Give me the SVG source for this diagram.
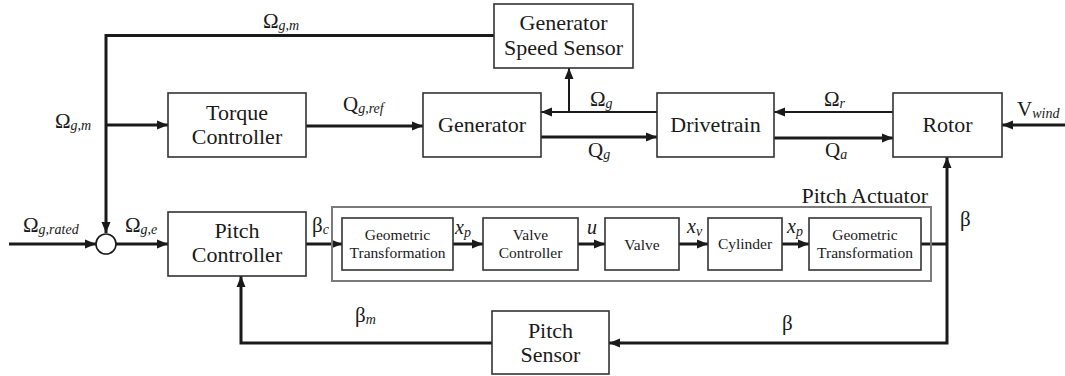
<svg xmlns="http://www.w3.org/2000/svg" width="1065" height="376" viewBox="0 0 1065 376">
<defs>
<style>
.lab{font-family:"Liberation Serif","Times New Roman",serif;font-size:21px;fill:#1a1a1a}
.bx{fill:#fff;stroke:#333;stroke-width:1.6}
.sub{font-size:14px;font-style:italic}
.it{font-style:italic}
.c{fill:none;stroke:#1a1a1a;stroke-width:3}
.c2{fill:none;stroke:#1a1a1a;stroke-width:2}
</style>
<marker id="a" markerUnits="userSpaceOnUse" markerWidth="12" markerHeight="12" viewBox="0 0 12 12" refX="11" refY="6" orient="auto-start-reverse">
<path d="M0,1.5 L11,6 L0,10.5 Z" fill="#1a1a1a"/>
</marker>
</defs>

<g id="connectors">
<path class="c" d="M494 35.5 H106 V233" marker-end="url(#a)"/>
<path class="c" d="M106 125 H168" marker-end="url(#a)"/>
<path class="c" d="M306 126 H423" marker-end="url(#a)"/>
<path class="c2" d="M657 112 H541" marker-end="url(#a)"/>
<path class="c2" d="M569 112 V68" marker-end="url(#a)"/>
<path class="c" d="M541 137 H657" marker-end="url(#a)"/>
<path class="c2" d="M893 112 H774" marker-end="url(#a)"/>
<path class="c" d="M774 138 H893" marker-end="url(#a)"/>
<path class="c" d="M1065 125 H1002" marker-end="url(#a)"/>
<path class="c" d="M9 244 H96" marker-end="url(#a)"/>
<path class="c" d="M116 244 H168" marker-end="url(#a)"/>
<path class="c" d="M306 244 H342" marker-end="url(#a)"/>
<path class="c" d="M453 244 H483" marker-end="url(#a)"/>
<path class="c" d="M578 244 H605" marker-end="url(#a)"/>
<path class="c" d="M679 244 H708" marker-end="url(#a)"/>
<path class="c" d="M782 244 H809" marker-end="url(#a)"/>
<path class="c" d="M921 244 H947"/>
<path class="c" d="M609 343 H947 V157" marker-start="url(#a)" marker-end="url(#a)"/>
<path class="c" d="M492 343 H241 V276" marker-end="url(#a)"/>
</g>

<g id="sum"><circle cx="106" cy="244" r="10" fill="#fff" stroke="#1a1a1a" stroke-width="1.6"/></g>

<g id="gen-speed-sensor">
<rect class="bx" x="494" y="4" width="139" height="64"/>
<text class="lab" x="563.5" y="30" text-anchor="middle" style="font-size:22px">Generator</text>
<text class="lab" x="563.5" y="55" text-anchor="middle" style="font-size:22px">Speed Sensor</text>
</g>
<g id="torque-controller">
<rect class="bx" x="168" y="93" width="138" height="64"/>
<text class="lab" x="237" y="120" text-anchor="middle" style="font-size:22px">Torque</text>
<text class="lab" x="237" y="144" text-anchor="middle" style="font-size:22px">Controller</text>
</g>
<g id="generator">
<rect class="bx" x="423" y="93" width="118" height="64"/>
<text class="lab" x="482" y="132" text-anchor="middle" style="font-size:22px">Generator</text>
</g>
<g id="drivetrain">
<rect class="bx" x="657" y="93" width="117" height="64"/>
<text class="lab" x="715.5" y="132" text-anchor="middle" style="font-size:22px">Drivetrain</text>
</g>
<g id="rotor">
<rect class="bx" x="893" y="93" width="109" height="64"/>
<text class="lab" x="947.5" y="132" text-anchor="middle" style="font-size:22px">Rotor</text>
</g>
<g id="pitch-controller">
<rect class="bx" x="168" y="212" width="138" height="64"/>
<text class="lab" x="237" y="238" text-anchor="middle" style="font-size:22px">Pitch</text>
<text class="lab" x="237" y="262" text-anchor="middle" style="font-size:22px">Controller</text>
</g>
<g id="pitch-actuator">
<rect x="332" y="207" width="599" height="74" fill="none" stroke="#7a7a7a" stroke-width="2"/>
<text class="lab" x="928" y="203" text-anchor="end" style="font-size:22px">Pitch Actuator</text>
</g>
<g id="geom1">
<rect class="bx" x="342" y="218" width="111" height="52"/>
<text class="lab" x="397.5" y="240" text-anchor="middle" style="font-size:15.5px">Geometric</text>
<text class="lab" x="397.5" y="258" text-anchor="middle" style="font-size:15.5px">Transformation</text>
</g>
<g id="valve-controller">
<rect class="bx" x="483" y="218" width="95" height="52"/>
<text class="lab" x="530.5" y="240" text-anchor="middle" style="font-size:15.5px">Valve</text>
<text class="lab" x="530.5" y="258" text-anchor="middle" style="font-size:15.5px">Controller</text>
</g>
<g id="valve">
<rect class="bx" x="605" y="218" width="74" height="52"/>
<text class="lab" x="642" y="250" text-anchor="middle" style="font-size:15.5px">Valve</text>
</g>
<g id="cylinder">
<rect class="bx" x="708" y="218" width="74" height="52"/>
<text class="lab" x="745" y="249" text-anchor="middle" style="font-size:15.5px">Cylinder</text>
</g>
<g id="geom2">
<rect class="bx" x="809" y="218" width="112" height="52"/>
<text class="lab" x="865" y="240" text-anchor="middle" style="font-size:15.5px">Geometric</text>
<text class="lab" x="865" y="258" text-anchor="middle" style="font-size:15.5px">Transformation</text>
</g>
<g id="pitch-sensor">
<rect class="bx" x="492" y="311" width="117" height="63"/>
<text class="lab" x="550.5" y="338" text-anchor="middle" style="font-size:22px">Pitch</text>
<text class="lab" x="550.5" y="362" text-anchor="middle" style="font-size:22px">Sensor</text>
</g>

<g id="labels">
<text class="lab" x="263" y="28">Ω<tspan class="sub" dy="2">g,m</tspan></text>
<text class="lab" x="55" y="128">Ω<tspan class="sub" dy="2">g,m</tspan></text>
<text class="lab" x="343" y="111">Q<tspan class="sub" dy="2">g,ref</tspan></text>
<text class="lab" x="590" y="106">Ω<tspan class="sub" dy="2">g</tspan></text>
<text class="lab" x="588" y="157">Q<tspan class="sub" dy="2">g</tspan></text>
<text class="lab" x="824" y="106">Ω<tspan class="sub" dy="2">r</tspan></text>
<text class="lab" x="825" y="157">Q<tspan class="sub" dy="2">a</tspan></text>
<text class="lab" x="1017" y="116">V<tspan class="sub" dy="2">wind</tspan></text>
<text class="lab" x="23" y="232">Ω<tspan class="sub" dy="2">g,rated</tspan></text>
<text class="lab" x="125" y="232">Ω<tspan class="sub" dy="2">g,e</tspan></text>
<text class="lab" x="312" y="232">β<tspan class="sub" dy="2">c</tspan></text>
<text class="lab it" x="455" y="234" style="font-size:20px">x<tspan font-size="14" dy="3">p</tspan></text>
<text class="lab it" x="587" y="234" style="font-size:20px">u</text>
<text class="lab it" x="687" y="233" style="font-size:20px">x<tspan font-size="14" dy="3">v</tspan></text>
<text class="lab it" x="787" y="233" style="font-size:20px">x<tspan font-size="14" dy="3">p</tspan></text>
<text class="lab" x="960" y="226">β</text>
<text class="lab" x="782" y="330">β</text>
<text class="lab" x="355" y="322">β<tspan class="sub" dy="2">m</tspan></text>
</g>
</svg>
